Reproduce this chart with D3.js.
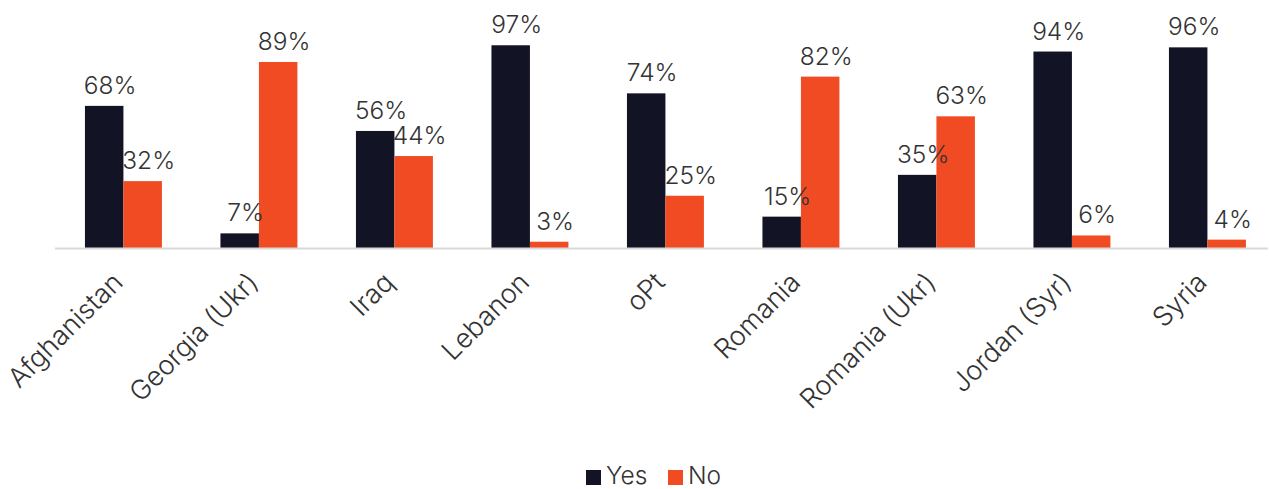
<!DOCTYPE html>
<html><head><meta charset="utf-8">
<script src="https://cdn.jsdelivr.net/npm/d3@7"></script>
<style>body{margin:0;background:#fff;} svg{display:block;font-family:Inter, "Noto Sans", sans-serif;font-weight:300;}</style>
</head><body>
<svg id="c" width="1269" height="489"></svg>
<script>
const categories = ["Afghanistan","Georgia (Ukr)","Iraq","Lebanon","oPt","Romania","Romania (Ukr)","Jordan (Syr)","Syria"];
const yesValues = [68,7,56,97,74,15,35,94,96];
const noValues = [32,89,44,3,25,82,63,6,4];
const seriesNames = ["Yes","No"];
const colors = ["#121426","#F04B23"];

const svg = d3.select("#c");
const step = 135.5, p = 0.432, po = 0.221;
const r0 = 55, r1 = r0 + step*(categories.length - p + 2*po);
const x0 = d3.scaleBand().domain(categories).range([r0,r1]).paddingInner(p).paddingOuter(po);
const x1 = d3.scaleBand().domain(seriesNames).range([0,x0.bandwidth()]);
const y = d3.scaleLinear().domain([0,100]).range([248,39]);

const data = categories.map((c,i)=>({cat:c, vals:[{s:"Yes",v:yesValues[i]},{s:"No",v:noValues[i]}]}));

const g = svg.append("g");
const groups = g.selectAll("g.cat").data(data).join("g").attr("transform",d=>`translate(${x0(d.cat)},0)`);
groups.selectAll("rect").data(d=>d.vals).join("rect")
  .attr("x",d=>x1(d.s)).attr("width",x1.bandwidth())
  .attr("y",d=>y(d.v)).attr("height",d=>y(0)-y(d.v))
  .attr("fill",d=>colors[seriesNames.indexOf(d.s)]);
groups.selectAll("text").data(d=>d.vals).join("text")
  .attr("x",d=>x1(d.s)+x1.bandwidth()/2+6).attr("y",d=>y(d.v)-12)
  .attr("text-anchor","middle").attr("font-size",24.5).attr("fill","#333")
  .text(d=>d.v+"%");

// axis
const ax = svg.append("g").attr("transform","translate(0,248)")
  .call(d3.axisBottom(x0).tickSize(0).tickPadding(0));
ax.select(".domain").attr("stroke","#d9d9d9").attr("stroke-width",2).attr("d","M55,0.5H1268");
ax.selectAll(".tick text")
  .attr("font-size",27).attr("fill","#333").attr("font-weight",300)
  .attr("font-family","Inter, 'Noto Sans', sans-serif")
  .attr("text-anchor","end").attr("dy",0).attr("y",0)
  .attr("transform","translate(1,36) rotate(-45)");

// legend
const leg = svg.append("g");
const items = [{n:"Yes",x:586},{n:"No",x:668}];
items.forEach((it,i)=>{
  leg.append("rect").attr("x",it.x).attr("y",470).attr("width",15).attr("height",15).attr("fill",colors[i]);
  leg.append("text").attr("x",it.x+20).attr("y",484).attr("font-size",24.5).attr("fill","#333").text(it.n);
});
</script>
</body></html>
